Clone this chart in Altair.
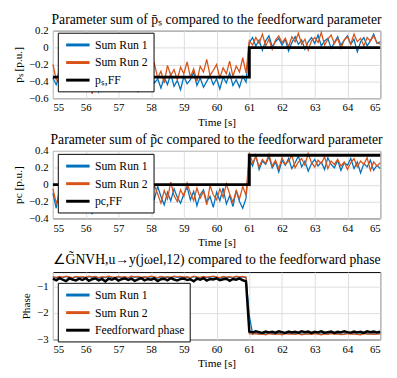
import altair as alt
import pandas as pd

# time grid (0.1 s samples from 55 s to 65 s)
TIME = [round(55 + 0.1 * i, 1) for i in range(101)]

# ---- panel 1: p_s ----
P1_RUN1 = [-0.36,-0.44,-0.33,-0.47,-0.38,-0.30,-0.45,-0.40,-0.50,-0.35,
           -0.42,-0.31,-0.48,-0.39,-0.52,-0.36,-0.44,-0.29,-0.41,-0.37,
           -0.46,-0.34,-0.40,-0.27,-0.43,-0.38,-0.49,-0.33,-0.45,-0.36,
           -0.30,-0.42,-0.37,-0.48,-0.35,-0.44,-0.31,-0.46,-0.39,-0.50,
           -0.34,-0.43,-0.38,-0.29,-0.45,-0.36,-0.47,-0.40,-0.33,-0.44,
           -0.37,-0.49,-0.35,-0.42,-0.30,-0.45,-0.38,-0.47,-0.34,-0.41,
           0.06,0.12,0.02,0.09,-0.03,0.08,0.14,0.01,0.07,0.11,
           0.03,0.10,-0.04,0.06,0.13,0.04,0.09,-0.02,0.07,0.12,
           0.05,0.15,0.02,0.08,0.11,-0.01,0.06,0.13,0.03,0.09,
           0.14,0.04,0.10,-0.05,0.07,0.12,0.02,0.08,0.16,0.05,
           0.07]
P1_RUN2 = [-0.20,-0.38,-0.27,-0.45,-0.31,-0.24,-0.42,-0.35,-0.50,-0.29,
           -0.40,-0.26,-0.55,-0.33,-0.46,-0.28,-0.37,-0.22,-0.44,-0.30,
           -0.39,-0.25,-0.47,-0.32,-0.41,-0.27,-0.53,-0.35,-0.43,-0.24,
           -0.30,-0.19,-0.36,-0.28,-0.42,-0.21,-0.33,-0.26,-0.38,-0.23,
           -0.31,-0.17,-0.35,-0.25,-0.40,-0.22,-0.29,-0.14,-0.33,-0.27,
           -0.20,-0.36,-0.24,-0.31,-0.16,-0.34,-0.22,-0.29,-0.12,-0.30,
           0.08,0.03,0.12,0.05,0.16,0.02,0.10,-0.02,0.09,0.14,
           0.06,0.11,0.01,0.13,0.07,0.17,0.04,0.10,-0.03,0.08,
           0.12,0.06,0.18,0.03,0.10,0.15,0.05,0.11,-0.01,0.09,
           0.13,0.04,0.16,0.07,0.11,0.02,0.12,0.08,0.14,0.06,
           0.04]
P1_FF_T = [55, 61, 61, 65]
P1_FF_V = [-0.35, -0.35, 0.0, 0.0]

# ---- panel 2: p_c ----
P2_RUN1 = [-0.10,-0.28,-0.05,-0.20,-0.33,-0.12,-0.24,-0.08,-0.30,-0.15,
           -0.22,-0.06,-0.35,-0.14,-0.25,-0.09,-0.19,-0.31,-0.11,-0.23,
           -0.07,-0.18,-0.27,-0.10,-0.21,-0.04,-0.16,-0.26,-0.12,-0.20,
           -0.08,-0.17,-0.02,-0.14,-0.24,-0.09,-0.19,-0.05,-0.15,-0.22,
           -0.11,-0.03,-0.18,-0.08,-0.25,-0.12,-0.06,-0.21,-0.14,-0.27,
           -0.09,-0.19,-0.04,-0.23,-0.13,-0.26,-0.07,-0.20,-0.28,-0.16,
           0.30,0.22,0.35,0.18,0.28,0.24,0.33,0.20,0.27,0.15,
           0.29,0.23,0.31,0.19,0.26,0.34,0.21,0.28,0.16,0.25,
           0.30,0.22,0.27,0.18,0.32,0.24,0.20,0.29,0.17,0.26,
           0.23,0.31,0.19,0.27,0.14,0.25,0.21,0.29,0.17,0.23,
           0.19]
P2_RUN2 = [-0.05,-0.22,-0.12,-0.27,-0.15,-0.07,-0.24,-0.18,-0.30,-0.11,
           -0.19,-0.04,-0.16,-0.25,-0.09,-0.21,-0.13,-0.28,-0.06,-0.17,
           -0.10,-0.23,-0.02,-0.14,-0.20,-0.08,-0.26,-0.12,-0.18,-0.05,
           -0.15,-0.01,-0.11,-0.22,-0.07,-0.17,0.03,-0.13,-0.20,-0.06,
           -0.14,0.02,-0.10,-0.19,-0.04,-0.16,-0.08,-0.24,-0.01,-0.12,
           -0.18,-0.05,-0.15,0.01,-0.11,-0.21,-0.07,-0.17,-0.02,-0.13,
           0.38,0.26,0.33,0.21,0.30,0.25,0.36,0.22,0.29,0.19,
           0.32,0.24,0.28,0.35,0.20,0.27,0.31,0.23,0.37,0.26,
           0.21,0.29,0.25,0.33,0.19,0.28,0.24,0.30,0.22,0.27,
           0.18,0.26,0.31,0.21,0.28,0.24,0.32,0.17,0.27,0.22,
           0.26]
P2_FF_T = [55, 61, 61, 65]
P2_FF_V = [0.0, 0.0, 0.35, 0.35]

# ---- panel 3: phase ----
P3_RUN1 = [-0.64,-0.67,-0.63,-0.66,-0.62,-0.65,-0.68,-0.63,-0.66,-0.64,
           -0.67,-0.62,-0.65,-0.63,-0.68,-0.64,-0.66,-0.62,-0.65,-0.67,
           -0.63,-0.66,-0.64,-0.68,-0.62,-0.65,-0.63,-0.67,-0.64,-0.66,
           -0.62,-0.65,-0.68,-0.63,-0.66,-0.64,-0.67,-0.62,-0.65,-0.63,
           -0.66,-0.64,-0.68,-0.62,-0.65,-0.67,-0.63,-0.66,-0.64,-0.62,
           -0.65,-0.68,-0.63,-0.66,-0.64,-0.67,-0.62,-0.65,-0.63,-0.66,
           -2.10,-2.78,-2.76,-2.79,-2.77,-2.80,-2.76,-2.78,-2.79,-2.77,
           -2.80,-2.76,-2.78,-2.77,-2.79,-2.76,-2.80,-2.78,-2.77,-2.79,
           -2.76,-2.78,-2.80,-2.77,-2.79,-2.76,-2.78,-2.77,-2.80,-2.79,
           -2.76,-2.78,-2.77,-2.79,-2.80,-2.76,-2.78,-2.77,-2.79,-2.78,
           -2.77]
P3_RUN2 = [-0.62,-0.65,-0.61,-0.64,-0.60,-0.63,-0.66,-0.61,-0.64,-0.62,
           -0.65,-0.60,-0.63,-0.61,-0.66,-0.62,-0.64,-0.60,-0.63,-0.65,
           -0.61,-0.64,-0.62,-0.66,-0.60,-0.63,-0.61,-0.65,-0.62,-0.64,
           -0.60,-0.63,-0.66,-0.61,-0.64,-0.62,-0.65,-0.60,-0.63,-0.61,
           -0.64,-0.62,-0.66,-0.60,-0.63,-0.65,-0.61,-0.64,-0.62,-0.60,
           -0.63,-0.66,-0.61,-0.64,-0.62,-0.65,-0.60,-0.63,-0.61,-0.64,
           -2.78,-2.80,-2.78,-2.81,-2.79,-2.82,-2.78,-2.80,-2.81,-2.79,
           -2.82,-2.78,-2.80,-2.79,-2.81,-2.78,-2.82,-2.80,-2.79,-2.81,
           -2.78,-2.80,-2.82,-2.79,-2.81,-2.78,-2.80,-2.79,-2.82,-2.81,
           -2.78,-2.80,-2.79,-2.81,-2.82,-2.78,-2.80,-2.79,-2.81,-2.80,
           -2.79]
P3_FF = [-0.70,-0.76,-0.68,-0.74,-0.79,-0.69,-0.73,-0.77,-0.70,-0.75,
         -0.68,-0.78,-0.72,-0.69,-0.76,-0.71,-0.80,-0.70,-0.74,-0.68,
         -0.77,-0.72,-0.69,-0.75,-0.70,-0.78,-0.73,-0.68,-0.76,-0.71,
         -0.74,-0.69,-0.79,-0.72,-0.70,-0.76,-0.68,-0.73,-0.77,-0.71,
         -0.69,-0.75,-0.72,-0.80,-0.70,-0.74,-0.68,-0.77,-0.71,-0.73,
         -0.69,-0.76,-0.72,-0.70,-0.78,-0.71,-0.74,-0.69,-0.76,-0.80,
         -2.70,-2.73,-2.69,-2.72,-2.75,-2.70,-2.73,-2.71,-2.74,-2.69,
         -2.72,-2.75,-2.70,-2.73,-2.71,-2.74,-2.69,-2.72,-2.70,-2.75,
         -2.71,-2.73,-2.69,-2.74,-2.72,-2.70,-2.75,-2.71,-2.73,-2.69,
         -2.72,-2.74,-2.70,-2.73,-2.71,-2.75,-2.69,-2.72,-2.70,-2.73,
         -2.71]

BLUE = "#0072BD"
ORANGE = "#D95319"
BLACK = "#000000"
SERIF = "Liberation Serif"
W, H = 335, 69


def frame(ts, vs, name):
    return pd.DataFrame({"t": ts, "v": vs, "series": name, "i": list(range(len(ts)))})


def axis(lp, tp, **kw):
    return alt.Axis(
        labelFont=SERIF, titleFont=SERIF, labelFontSize=11, titleFontSize=11.5,
        titleFontWeight="normal", labelColor="black", titleColor="black",
        gridColor="#dddddd", ticks=False, domain=False, labelPadding=lp,
        titlePadding=tp, **kw)


def panel(title, ytitle, ydom, yvals, run1, run2, ff_t, ff_v, ff_label, ly, toff):
    domain = ["Sum Run 1", "Sum Run 2", ff_label]
    color = alt.Color(
        "series:N",
        scale=alt.Scale(domain=domain, range=[BLUE, ORANGE, BLACK]),
        legend=alt.Legend(
            title=None, orient="none", legendX=5, legendY=ly,
            strokeColor="black", fillColor="white", padding=5,
            cornerRadius=0, symbolType="M-2,0H2", symbolStrokeWidth=3,
            symbolSize=144, symbolOffset=8, labelFont=SERIF, labelFontSize=12,
            labelColor="black", rowPadding=4, labelLimit=300, labelOffset=10,
        ),
    )
    x = alt.X("t:Q", scale=alt.Scale(domain=[55, 65], nice=False),
              axis=axis(4, 4, values=list(range(55, 66)), title="Time [s]"))
    y = alt.Y("v:Q", scale=alt.Scale(domain=ydom, nice=False, zero=False),
              axis=axis(5, 5, values=yvals, title=ytitle,
                        labelExpr="datum.value == 0 ? '0' : format(datum.value, '.1~f')"))
    d1 = frame(TIME, run1, "Sum Run 1")
    d2 = frame(TIME, run2, "Sum Run 2")
    dff = frame(ff_t, ff_v, ff_label)
    l1 = alt.Chart(d1).mark_line(strokeWidth=1.3).encode(x=x, y=y, color=color, order="i:Q")
    l2 = alt.Chart(d2).mark_line(strokeWidth=1.3).encode(x=x, y=y, color=color, order="i:Q")
    l3 = alt.Chart(dff).mark_line(strokeWidth=3 if len(ff_t) < 10 else 2.5).encode(
        x=x, y=y, color=color, order="i:Q")
    return alt.layer(l1, l2, l3).properties(
        width=W, height=H,
        title=alt.TitleParams(title, font=SERIF, fontSize=14, fontWeight="normal",
                              offset=toff, color="black"),
    )


p1 = panel("Parameter sum of p̄ₛ compared to the feedforward parameter",
           "pₛ [p.u.]", [-0.6, 0.2], [-0.6, -0.4, -0.2, 0, 0.2],
           P1_RUN1, P1_RUN2, P1_FF_T, P1_FF_V, "pₛ,FF", 2, -2)
p2 = panel("Parameter sum of p̃c compared to the feedforward parameter",
           "pc [p.u.]", [-0.4, 0.4], [-0.4, -0.2, 0, 0.2, 0.4],
           P2_RUN1, P2_RUN2, P2_FF_T, P2_FF_V, "pc,FF", 3, -2)
p3 = panel("∠G̃NVH,u→y(jωel,12) compared to the feedforward phase",
           "Phase", [-3, -0.45], [-3, -2, -1],
           P3_RUN1, P3_RUN2, TIME, P3_FF, "Feedforward phase", 11, 5)

chart = alt.vconcat(p1, p2, p3, spacing=4).resolve_scale(color="independent").configure(
    padding={"left": 4, "right": 2, "top": 0, "bottom": 0},
    font=SERIF,
).configure_view(
    stroke="black", strokeWidth=1,
)

chart.save("out.html", embed_options={"renderer": "svg", "actions": False})
